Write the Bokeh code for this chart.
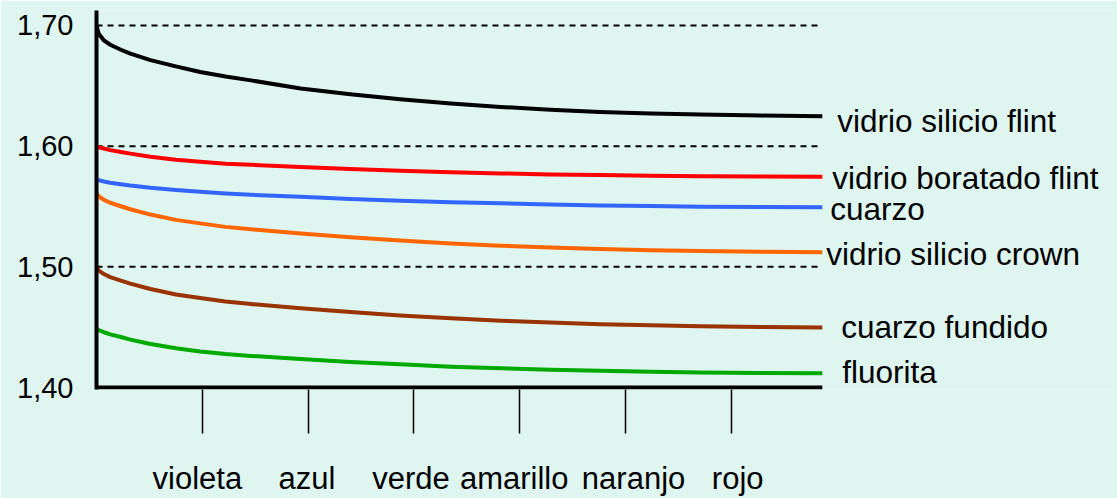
from bokeh.plotting import figure
from bokeh.models import Range1d, FixedTicker, Label, LinearAxis
from bokeh.embed import file_html
from bokeh.resources import INLINE

# ---- data ----
x_pos = [0, 0.02, 0.07, 0.13, 0.23, 0.32, 0.51, 0.75, 0.98, 1.22, 1.46,
         1.93, 2.4, 2.87, 3.35, 3.82, 4.29, 4.76, 5.24, 5.71, 6.28, 6.86]

silicio_flint = [1.7000, 1.6934, 1.6876, 1.6840, 1.6799, 1.6766, 1.6713, 1.6661, 1.6614, 1.6577, 1.6545,
                 1.6477, 1.6430, 1.6388, 1.6353, 1.6325, 1.6302, 1.6283, 1.6271, 1.6262, 1.6253, 1.6248]
boratado_flint = [1.6000, 1.5991, 1.5980, 1.5967, 1.5952, 1.5938, 1.5912, 1.5888, 1.5870, 1.5855, 1.5845,
                  1.5827, 1.5811, 1.5797, 1.5784, 1.5774, 1.5766, 1.5760, 1.5755, 1.5751, 1.5748, 1.5746]
cuarzo = [1.5725, 1.5717, 1.5707, 1.5697, 1.5685, 1.5674, 1.5655, 1.5637, 1.5622, 1.5608, 1.5597,
          1.5581, 1.5563, 1.5548, 1.5536, 1.5526, 1.5517, 1.5509, 1.5503, 1.5498, 1.5495, 1.5493]
silicio_crown = [1.5609, 1.5585, 1.5555, 1.5531, 1.5502, 1.5477, 1.5433, 1.5389, 1.5360, 1.5331, 1.5311,
                 1.5277, 1.5245, 1.5219, 1.5194, 1.5175, 1.5160, 1.5148, 1.5138, 1.5131, 1.5124, 1.5121]
cuarzo_fundido = [1.4995, 1.4970, 1.4940, 1.4915, 1.4886, 1.4861, 1.4816, 1.4771, 1.4742, 1.4712, 1.4692,
                  1.4657, 1.4625, 1.4597, 1.4573, 1.4553, 1.4538, 1.4525, 1.4515, 1.4508, 1.4501, 1.4498]
fluorita = [1.4488, 1.4475, 1.4458, 1.4440, 1.4418, 1.4397, 1.4360, 1.4325, 1.4299, 1.4277, 1.4262,
            1.4236, 1.4212, 1.4192, 1.4173, 1.4159, 1.4148, 1.4138, 1.4131, 1.4125, 1.4121, 1.4118]

series_names = ["vidrio silicio flint", "vidrio boratado flint", "cuarzo",
                "vidrio silicio crown", "cuarzo fundido", "fluorita"]
series_values = [silicio_flint, boratado_flint, cuarzo, silicio_crown, cuarzo_fundido, fluorita]

x_ticks = [1, 2, 3, 4, 5, 6]
x_labels = ["violeta", "azul", "verde", "amarillo", "naranjo", "rojo"]
y_ticks = [1.40, 1.50, 1.60, 1.70]
y_labels = ["1,40", "1,50", "1,60", "1,70"]
grid_ticks = [1.50, 1.60, 1.70]

# ---- style ----
BG = "#DEF5F0"
FONT = "Liberation Sans"
colors = ["#000000", "#FF0000", "#3366FF", "#FF6600", "#993300", "#00AA00"]
label_dx = [15, 10, 8, 4, 19, 20]
label_dy = [-5, -1, -2, -2, 0, 1]
x_label_shift = [-0.047, -0.01, -0.028, -0.052, 0.076, 0.06]   # small visual nudges of the category names

p = figure(width=1117, height=498,
           x_range=Range1d(0, 9.65), y_range=Range1d(1.39835, 1.7124),
           output_backend="svg", toolbar_location=None,
           min_border_left=96, min_border_right=0,
           min_border_top=10, min_border_bottom=108,
           background_fill_color=BG, border_fill_color=BG,
           outline_line_color=None)

# axis carrying the tick marks
xa = p.xaxis[0]
xa.ticker = FixedTicker(ticks=x_ticks)
xa.major_label_overrides = {t: "" for t in x_ticks}
xa.axis_line_color = None
xa.major_tick_in = 0
xa.major_tick_out = 44
xa.major_tick_line_width = 1.5
xa.major_tick_line_color = "black"
xa.minor_tick_line_color = None
xa.major_label_standoff = 0
xa.major_label_text_font_size = "1px"

# axis carrying the category names
label_ticks = [t + s for t, s in zip(x_ticks, x_label_shift)]
xl = LinearAxis(ticker=FixedTicker(ticks=label_ticks),
                major_label_overrides={lt: l for lt, l in zip(label_ticks, x_labels)},
                axis_line_color=None, major_tick_line_color=None, minor_tick_line_color=None,
                major_tick_in=0, major_tick_out=0,
                major_label_standoff=27,
                major_label_text_font=FONT, major_label_text_font_size="31px",
                major_label_text_color="black")
p.add_layout(xl, "below")

ya = p.yaxis[0]
ya.ticker = FixedTicker(ticks=y_ticks)
ya.major_label_overrides = {t: l for t, l in zip(y_ticks, y_labels)}
ya.axis_line_width = 4
ya.axis_line_color = "black"
ya.major_tick_in = 0
ya.major_tick_out = 0
ya.major_tick_line_color = None
ya.minor_tick_line_color = None
ya.major_label_standoff = 23
ya.major_label_text_font = FONT
ya.major_label_text_font_size = "29px"
ya.major_label_text_color = "black"

p.xgrid.visible = False
p.ygrid.visible = False

# dashed reference lines spanning the data extent only
p.segment(x0=[x_pos[0]] * len(grid_ticks), y0=grid_ticks,
          x1=[x_pos[-1] - 0.04] * len(grid_ticks), y1=grid_ticks,
          line_color="black", line_width=2, line_dash="6 5")

# x axis baseline limited to the data extent
p.segment(x0=[x_pos[0]], y0=[y_ticks[0]], x1=[x_pos[-1]], y1=[y_ticks[0]],
          line_color="black", line_width=4)

for name, vals, c, dx, dy in zip(series_names, series_values, colors, label_dx, label_dy):
    p.line(x_pos, vals, line_width=4, line_color=c, line_join="round")
    p.add_layout(Label(x=x_pos[-1], y=vals[-1], text=name, x_offset=dx, y_offset=dy,
                       text_baseline="middle", text_align="left",
                       text_font=FONT, text_font_size="31.5px", text_color="black"))

open("out.html", "w").write(file_html(p, INLINE))
